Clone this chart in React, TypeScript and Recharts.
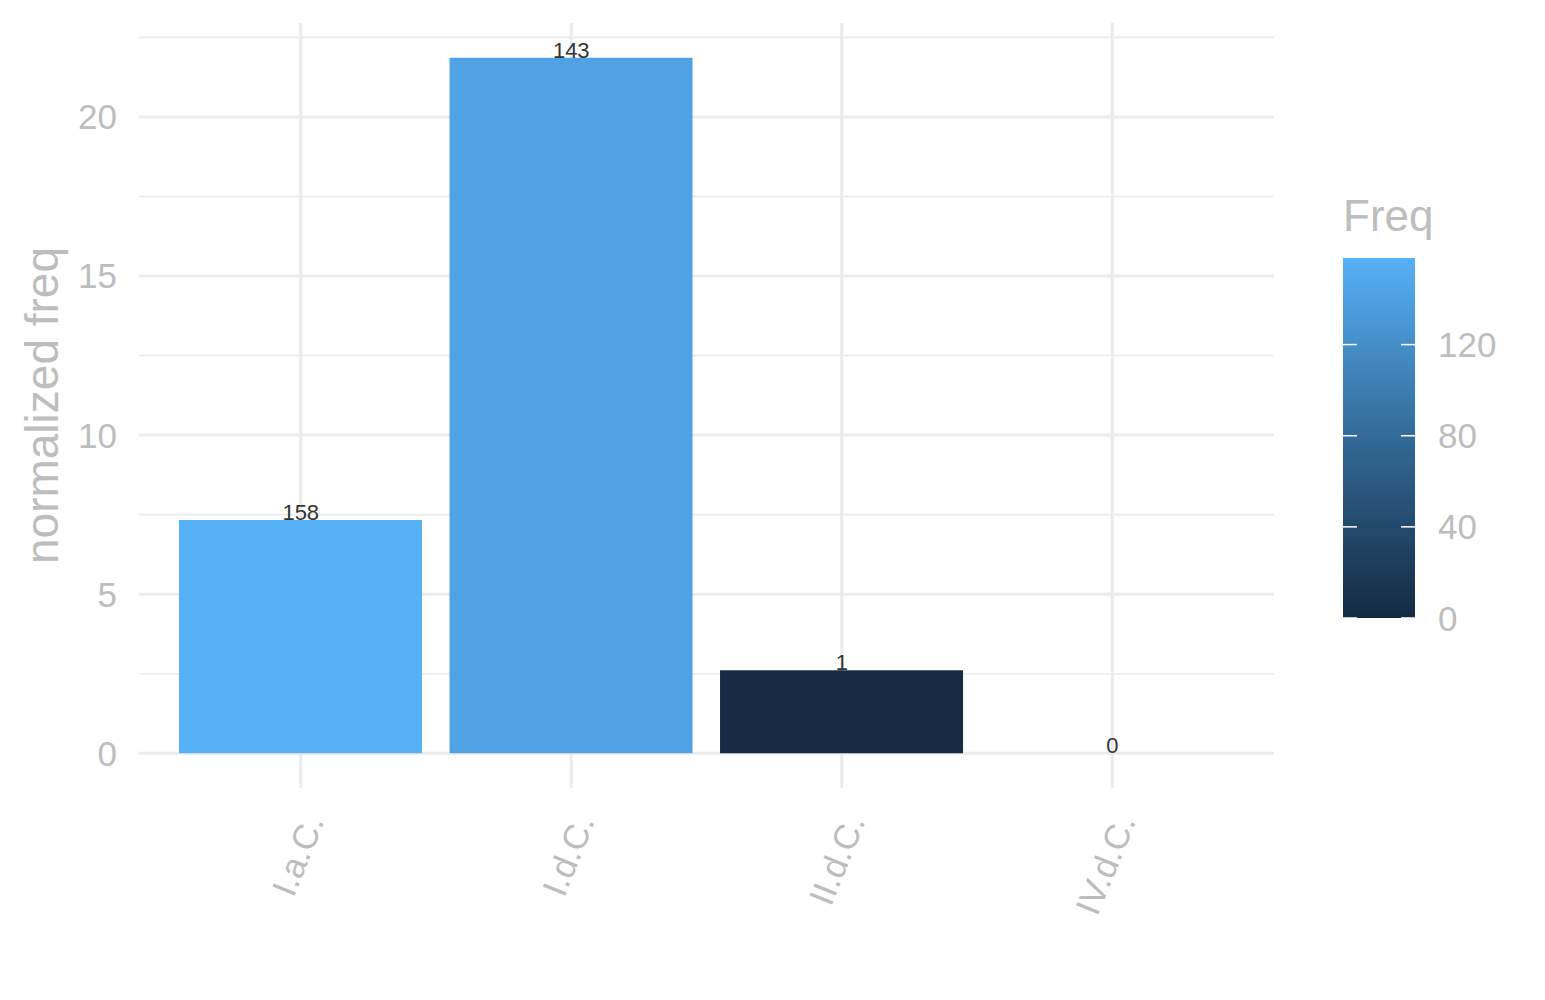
import React from "react";
import { Bar, CartesianGrid, Cell, ComposedChart, LabelList, Line, XAxis, YAxis } from "recharts";

const categories = ["I.a.C.", "I.d.C.", "II.d.C.", "IV.d.C."];
const normalizedFreq = [7.33, 21.86, 2.61, 0];
const freq = [158, 143, 1, 0];
const yTicks = [0, 5, 10, 15, 20];
const yMinorTicks = [2.5, 7.5, 12.5, 17.5, 22.5];
const legendTicks = [0, 40, 80, 120];

const data = categories.map((name, i) => ({
  name,
  value: normalizedFreq[i],
  freq: freq[i],
}));

const FONT = "'Liberation Sans', Arial, Helvetica, sans-serif";
const GREY = "#BDBDBD";
const GRID = "#EBEBEB";
const LOW = "#132B43";
const HIGH = "#56B1F7";

// ggplot-style gradient: interpolate in CIELAB
const D65 = [0.95047, 1, 1.08883];
function hexToLab(hex: string) {
  const c = [1, 3, 5].map((k) => parseInt(hex.slice(k, k + 2), 16) / 255);
  const [r, g, b] = c.map((v) => (v <= 0.04045 ? v / 12.92 : Math.pow((v + 0.055) / 1.055, 2.4)));
  const xyz = [
    0.4124 * r + 0.3576 * g + 0.1805 * b,
    0.2126 * r + 0.7152 * g + 0.0722 * b,
    0.0193 * r + 0.1192 * g + 0.9505 * b,
  ];
  const f = (t: number) => (t > 0.008856 ? Math.cbrt(t) : 7.787 * t + 16 / 116);
  const [fx, fy, fz] = xyz.map((v, i) => f(v / D65[i]));
  return [116 * fy - 16, 500 * (fx - fy), 200 * (fy - fz)];
}
function labToHex([L, a, bb]: number[]) {
  const fy = (L + 16) / 116;
  const fx = fy + a / 500;
  const fz = fy - bb / 200;
  const finv = (t: number) => (t * t * t > 0.008856 ? t * t * t : (t - 16 / 116) / 7.787);
  const [X, Y, Z] = [finv(fx) * D65[0], finv(fy) * D65[1], finv(fz) * D65[2]];
  const lin = [
    3.2406 * X - 1.5372 * Y - 0.4986 * Z,
    -0.9689 * X + 1.8758 * Y + 0.0415 * Z,
    0.0557 * X - 0.204 * Y + 1.057 * Z,
  ];
  return (
    "#" +
    lin
      .map((v) => (v <= 0.0031308 ? 12.92 * v : 1.055 * Math.pow(v, 1 / 2.4) - 0.055))
      .map((v) => Math.round(Math.min(1, Math.max(0, v)) * 255).toString(16).padStart(2, "0"))
      .join("")
  );
}
const lowLab = hexToLab(LOW);
const highLab = hexToLab(HIGH);
function gradientColor(t: number) {
  return labToHex(lowLab.map((v, i) => v + (highLab[i] - v) * t));
}

const freqMin = Math.min(...freq);
const freqMax = Math.max(...freq);
const freqToT = (v: number) => (v - freqMin) / (freqMax - freqMin);

function XTick(props: any) {
  const { x, y, payload } = props;
  const ax = x + 24;
  const ay = y + 33;
  return (
    <text
      x={ax}
      y={ay}
      textAnchor="end"
      transform={`rotate(-68 ${ax} ${ay})`}
      fill={GREY}
      fontSize={35}
      fontFamily={FONT}
    >
      {payload.value}
    </text>
  );
}

function YTitle(props: any) {
  const vb = props.viewBox || {};
  const cy = vb.y != null ? vb.y + vb.height / 2 : 405;
  const cx = 58;
  return (
    <text
      x={cx}
      y={cy}
      textAnchor="middle"
      transform={`rotate(-90 ${cx} ${cy})`}
      fill={GREY}
      fontSize={46}
      fontFamily={FONT}
    >
      normalized freq
    </text>
  );
}

// colourbar legend
const barX = 1343;
const barW = 72;
const barTop = 258;
const barBottom = 618;
const legendY = (v: number) => barBottom - freqToT(v) * (barBottom - barTop);

function ColourBar() {
  const stops = Array.from({ length: 21 }, (_, i) => i / 20);
  return (
    <svg
      width={1545}
      height={1000}
      style={{ position: "absolute", left: 0, top: 0, pointerEvents: "none" }}
    >
      <defs>
        <linearGradient id="freqGrad" x1="0" y1="1" x2="0" y2="0">
          {stops.map((s) => (
            <stop key={s} offset={s} stopColor={gradientColor(s)} />
          ))}
        </linearGradient>
      </defs>
      <text x={barX} y={231} fill={GREY} fontSize={44} fontFamily={FONT}>
        Freq
      </text>
      <rect x={barX} y={barTop} width={barW} height={barBottom - barTop} fill="url(#freqGrad)" />
      {legendTicks.map((t) => (
        <g key={t}>
          <line x1={barX} x2={barX + 14} y1={legendY(t)} y2={legendY(t)} stroke="#fff" strokeWidth={1.5} />
          <line x1={barX + barW - 14} x2={barX + barW} y1={legendY(t)} y2={legendY(t)} stroke="#fff" strokeWidth={1.5} />
          <text
            x={1438}
            y={legendY(t)}
            dominantBaseline="central"
            fill={GREY}
            fontSize={35}
            fontFamily={FONT}
          >
            {t}
          </text>
        </g>
      ))}
    </svg>
  );
}

export default function App() {
  return (
    <div style={{ position: "absolute", left: 0, top: 0, width: 1545, height: 1000, background: "#fff" }}>
      <ComposedChart
        width={1545}
        height={1000}
        data={data}
        margin={{ top: 23, right: 271, bottom: 0, left: 0 }}
        barCategoryGap="5%"
      >
        <CartesianGrid
          stroke={GRID}
          strokeWidth={1.6}
          vertical={false}
          horizontalValues={yMinorTicks}
          syncWithTicks
        />
        <CartesianGrid stroke={GRID} strokeWidth={3} syncWithTicks />
        <XAxis
          dataKey="name"
          height={212}
          padding={{ left: 26.5, right: 26.5 }}
          axisLine={false}
          tickLine={false}
          tickSize={0}
          tickMargin={0}
          interval={0}
          tick={<XTick />}
        />
        <YAxis
          type="number"
          width={139}
          domain={[-1.093, 22.953]}
          ticks={yTicks}
          allowDataOverflow
          axisLine={false}
          tickLine={false}
          tickSize={0}
          tickMargin={22}
          tick={{ fill: GREY, fontSize: 35, fontFamily: FONT }}
          label={<YTitle />}
        />
        <Bar dataKey="value" isAnimationActive={false}>
          {data.map((d) => (
            <Cell key={d.name} fill={gradientColor(freqToT(d.freq))} />
          ))}
        </Bar>
        <Line
          dataKey="value"
          stroke="none"
          dot={false}
          activeDot={false}
          isAnimationActive={false}
        >
          <LabelList
            dataKey="freq"
            position="top"
            offset={0}
            fill="#333333"
            fontSize={22}
            fontFamily={FONT}
          />
        </Line>
      </ComposedChart>
      <ColourBar />
    </div>
  );
}
